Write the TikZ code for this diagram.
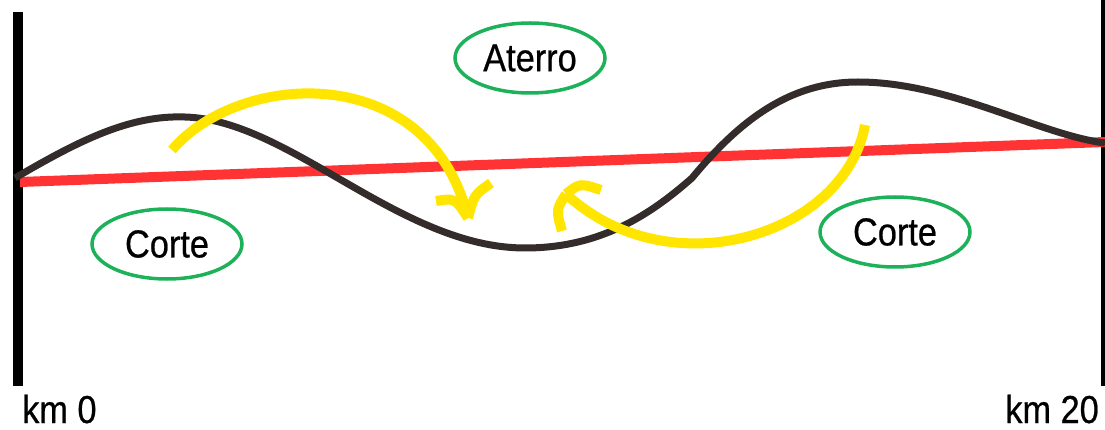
\documentclass[tikz,border=0pt]{standalone}
\usepackage{fontspec}
\setmainfont{Liberation Sans}[FakeStretch=0.88,FakeBold=0.6]
\usetikzlibrary{shapes.geometric}
\definecolor{cutred}{HTML}{FF3333}
\definecolor{terrain}{HTML}{332C2B}
\definecolor{moveyellow}{HTML}{FFE500}
\definecolor{tagreen}{HTML}{1DB25A}
\tikzset{
  bar/.style={line width=10pt, black},
  grade/.style={line width=10pt, cutred},
  ground/.style={line width=7pt, terrain, line join=round},
  move/.style={line width=10pt, moveyellow},
  tag/.style={ellipse, draw=tagreen, line width=3.5pt, minimum width=150pt, minimum height=70pt, inner sep=0pt, font=\fontsize{39}{46}\selectfont},
  kmlabel/.style={inner sep=0pt, font=\fontsize{39}{46}\selectfont}
}
\begin{document}
\begin{tikzpicture}[x=1pt,y=-1pt]
\useasboundingbox (0,0) rectangle (1105,430);
% end posts
\coordinate (l0) at (18,12);
\coordinate (l1) at (18,386);
\coordinate (r0) at (1104,0);
\coordinate (r1) at (1104,386);
\draw[bar] (l0) -- (l1);
\draw[bar, line width=6pt] (r0) -- (r1);
% grade line
\coordinate (g0) at (20,182);
\coordinate (g1) at (1105,142);
\draw[grade] (g0) -- (g1);
% terrain
\draw[ground] (15,178) .. controls (80,140) and (130,115) .. (185,117)
  .. controls (290,120) and (400,248) .. (525,248)
  .. controls (600,248) and (650,215) .. (692,178)
  .. controls (740,120) and (790,82) .. (858,82)
  .. controls (950,82) and (1040,135) .. (1105,143);
% yellow arrow 1
\coordinate (a1s) at (172,150);
\coordinate (a1t) at (468,218);
\draw[move] (a1s) .. controls (240,70) and (430,60) .. (a1t);
\draw[move] (a1t) .. controls (455,198) .. (436,201);
\draw[move] (a1t) .. controls (474,195) .. (491,183);
% yellow arrow 2
\coordinate (a2s) at (865,125);
\coordinate (a2t) at (566,194);
\draw[move] (a2s) .. controls (845,235) and (670,290) .. (a2t);
\draw[move] (a2t) .. controls (556,210) .. (562,231);
\draw[move] (a2t) .. controls (580,183) .. (601,190);
% labels
\node[tag] (aterro) at (530,58) {Aterro};
\node[tag] (corteL) at (167,244) {Corte};
\node[tag] (corteR) at (895,232) {Corte};
\node[kmlabel, anchor=base west] (km0) at (22,423) {km 0};
\node[kmlabel, anchor=base east] (km20) at (1099,423) {km 20};
\end{tikzpicture}
\end{document}
